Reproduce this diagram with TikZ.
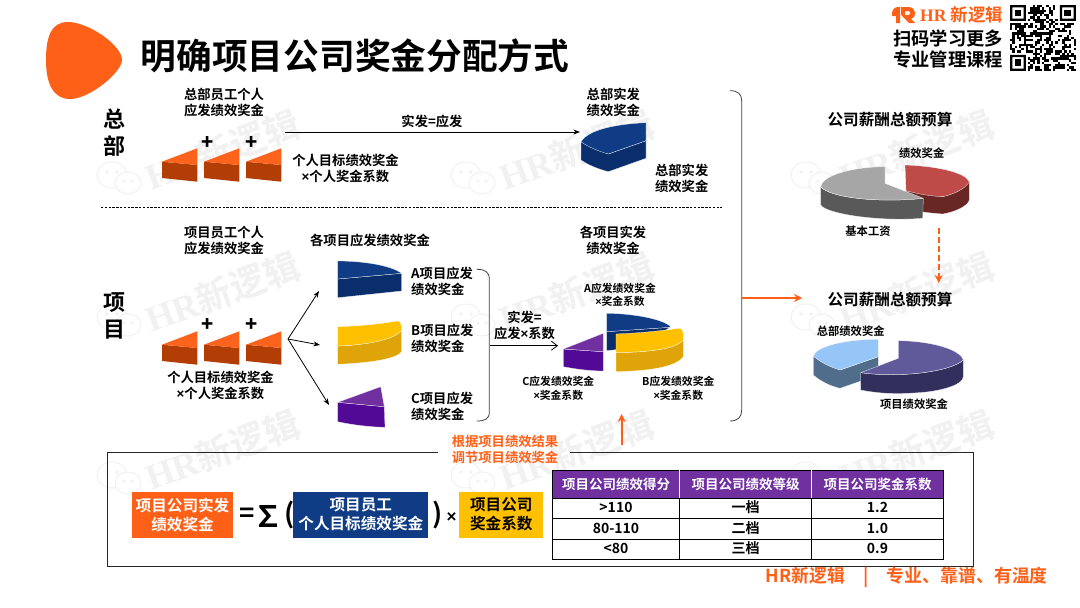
\documentclass[tikz,border=0pt]{standalone}
\usepackage{fontspec}
\setmainfont[BoldFont={Noto Sans CJK SC Bold}]{Noto Sans CJK SC}
\newfontfamily\latinserif{Liberation Serif}
\newfontfamily\latinsans{Liberation Sans}
\newfontfamily\blackface{Noto Sans CJK SC Black}
\usepackage{xcolor}
\usetikzlibrary{arrows.meta,positioning,calc}
\definecolor{brandcol}{RGB}{255,96,24}
\definecolor{navytop}{RGB}{15,60,133}
\definecolor{navyside}{RGB}{9,46,107}
\definecolor{goldtop}{RGB}{255,192,0}
\definecolor{goldside}{RGB}{222,164,8}
\definecolor{violettop}{RGB}{112,48,160}
\definecolor{violetside}{RGB}{82,10,150}
\definecolor{wedgetop}{RGB}{252,100,30}
\definecolor{wedgeside}{RGB}{178,62,6}
\definecolor{redtop}{RGB}{190,75,72}
\definecolor{redside}{RGB}{104,38,36}
\definecolor{greytop}{RGB}{166,166,166}
\definecolor{greyside}{RGB}{89,89,89}
\definecolor{skytop}{RGB}{150,197,248}
\definecolor{skyside}{RGB}{80,110,140}
\definecolor{slatetop}{RGB}{96,90,154}
\definecolor{slateside}{RGB}{50,47,92}
\definecolor{marktext}{RGB}{241,241,241}
\newcommand\fs[2]{\fontsize{#1}{#2}\selectfont\bfseries}
\newcommand\tm{{\latinsans\bfseries ×}}

\begin{document}
\begin{tikzpicture}[
  x=1pt, y=-1pt, >=Stealth,
  lbl/.style={inner sep=0pt, align=center, font=\fs{13.3}{16}},
  sidelbl/.style={inner sep=0pt, align=left, anchor=west, font=\fs{13.3}{16}},
  small/.style={inner sep=0pt, align=center, font=\fs{10.8}{13.4}},
  head/.style={inner sep=0pt, align=center, font=\fs{22}{27}},
  pielbl/.style={inner sep=0pt, font=\fs{11.3}{14}},
  pietitle/.style={inner sep=0pt, font=\fs{15.6}{18}},
  formbox/.style={minimum height=46pt, inner sep=0pt, align=center, font=\fs{15.6}{19}},
  cell/.style={inner sep=0pt, font=\fs{14}{16}},
  hcell/.style={inner sep=0pt, text=white, font=\fs{13.5}{16}},
  e/.style={->, thick, black},
  o/.style={-{Stealth[length=8pt,width=8pt]}, line width=2pt, brandcol},
  face/.style={draw=white, line width=.25pt, line join=round},
]
\useasboundingbox (0,0) rectangle (1080,608);
\fill[white] (0,0) rectangle (1080,608);
% watermarks
\foreach \wx/\wy in {118/178,472/178,812/178,118/320,472/320,812/320,118/478,472/478,812/478} {
  \begin{scope}[shift={(\wx,\wy)}, marktext, line width=1pt]
    \draw (-6,-3) ellipse (15pt and 13pt);
    \draw[fill=white] (10,5) ellipse (13pt and 11pt);
    \fill (-11,-6) circle (1.8pt) (-1,-6) circle (1.8pt) (6,3) circle (1.6pt) (14,3) circle (1.6pt);
    \node[rotate=20, anchor=west, inner sep=0pt, text=marktext, font=\fs{36}{38}] at (28,0)
      {{\latinserif HR}新逻辑};
  \end{scope}
}
% brand corner
\fill[brandcol] (46,60) .. controls (46,35) and (52,22) .. (68,22) .. controls (88,22) and (122,45) .. (122,60)
  .. controls (122,72) and (90,99) .. (70,99) .. controls (54,99) and (46,85) .. (46,60);
\node[inner sep=0pt, font=\fs{35.7}{40}] (title) at (355,56) {明确项目公司奖金分配方式};
\fill[brandcol] (892,13) .. controls (892,8) and (898,6) .. (900,7) -- (900,23) -- (896,23) -- (896,16) -- (892,16) -- cycle;
\fill[brandcol, even odd rule] (901,7) -- (908,7) .. controls (917,7) and (917,18) .. (911,19) -- (915,23) -- (909,23) -- (901,15) -- cycle
  (905,11) -- (908,11) .. controls (911,11) and (911,15) .. (908,15) -- (905,15) -- cycle;
\node[inner sep=0pt, anchor=west, text=brandcol, font=\fs{17.5}{20}] (brand) at (920,15) {{\latinserif\bfseries HR }新逻辑};
\node[inner sep=0pt, font=\fs{18.3}{22}] (scan) at (948,38) {扫码学习更多};
\node[inner sep=0pt, font=\fs{18.3}{22}] (course) at (948,60) {专业管理课程};
\begin{scope}[shift={(1010,5)}, x=2.27pt, y=-2.27pt]
  \pgfmathsetseed{29}
  \foreach \qi in {0,...,28} {
    \foreach \qj in {0,...,28} {
      \pgfmathparse{(\qi<8 && \qj<8) || (\qi>20 && \qj<8) || (\qi<8 && \qj>20) ? 0 : (rnd>0.5 ? 1 : 0)}
      \ifnum\pgfmathresult>0 \fill (\qi,\qj) rectangle ++(1.02,1.02); \fi
    }
  }
  \foreach \qx/\qy in {0/0,22/0,0/22} {
    \fill[even odd rule] (\qx,\qy) rectangle ++(7,7) (\qx+1,\qy+1) rectangle ++(5,5);
    \fill (\qx+2,\qy+2) rectangle ++(3,3);
  }
\end{scope}
% headquarters
\node[head] (hq) at (114,132.5) {总\\部};
\node[lbl] (hqstaff) at (224,102.5) {总部员工个人\\应发绩效奖金};
\foreach \wx/\wy in {162/0,204/0,246/0,162/183,204/183,246/183} {
  \fill[wedgeside, shift={(\wx,\wy)}] (0,161.7) -- (35.3,165) -- (35.3,181.7) -- (0,178) -- cycle;
  \fill[wedgetop, shift={(\wx,\wy)}] (0,161.7) -- (35.3,148.3) -- (35.3,165) -- cycle;
}
\foreach \px/\py [count=\pi] in {208/142.5,252/142.5,208/325,252/325}
  \node[inner sep=0pt, font=\blackface\fontsize{20}{20}\selectfont] (plus\pi) at (\px,\py) {+};
\node[lbl] (hqcalc) at (345.5,168.5) {个人目标绩效奖金\\\tm 个人奖金系数};
\coordinate (hqfrom) at (285,132);
\coordinate (hqto) at (580,132);
\draw[e] (hqfrom) -- (hqto);
\node[lbl] (hqeq) at (432,121) {实发=应发};
\node[lbl] (hqpaid) at (613.3,102) {总部实发\\绩效奖金};
\fill[navyside, face] (581,141.7) -- (581,160) .. controls (588,165) and (598,169) .. (608.3,171.7) -- (646,158.3) -- (646,140.7) -- (608.3,154) -- cycle;
\fill[navytop, face] (646,122.7) .. controls (615,124) and (588,130) .. (581,141.7) .. controls (588,147) and (598,151) .. (608.3,154) -- (646,140.7) -- cycle;
\node[lbl] (hqpaidb) at (681.7,178) {总部实发\\绩效奖金};
\coordinate (splitl) at (101,207);
\coordinate (splitr) at (722,207);
\draw[dashed, dash pattern=on 2.4pt off 1.4pt, line width=.8pt] (splitl) -- (splitr);
% projects
\node[head] (proj) at (114,315.5) {项\\目};
\node[lbl] (prstaff) at (224,240) {项目员工个人\\应发绩效奖金};
\node[lbl] (pralloc) at (370,240) {各项目应发绩效奖金};
\node[lbl] (prcalc) at (220.5,385) {个人目标绩效奖金\\\tm 个人奖金系数};
\coordinate (fan) at (288,339);
\coordinate (fana) at (319,291);
\coordinate (fanb) at (320,345);
\coordinate (fanc) at (329,405);
\foreach \t in {fana,fanb,fanc}
  \draw[e] (fan) -- (\t);
% A slab
\fill[navyside, face] (337.7,279) -- (337.7,297.7) -- (401.7,291) -- (401.7,273.3) -- cycle;
\fill[navytop, face] (337.7,261) .. controls (362,261) and (390,265) .. (401.7,273.3) -- (337.7,279) -- cycle;
% B slab
\fill[goldside, face] (337.7,346) -- (337.7,364.3) .. controls (365,363) and (395,360) .. (401.7,351.7) -- (401.7,330) .. controls (395,340) and (365,345) .. (337.7,346) -- cycle;
\fill[goldtop, face] (337.7,326.7) .. controls (360,326) and (380,324) .. (397,321) .. controls (400,321) and (402,324) .. (401.7,330) .. controls (395,340) and (365,345) .. (337.7,346) -- cycle;
% C slab
\fill[violetside, face] (337.7,402.3) -- (337.7,421.7) .. controls (353,425) and (370,427) .. (385,427.3) -- (384.3,406.7) -- cycle;
\fill[violettop, face] (337.7,402.3) -- (380.7,386.7) -- (384.3,406.7) -- cycle;
\node[sidelbl] (proja) at (411,281.5) {A项目应发\\绩效奖金};
\node[sidelbl] (projb) at (411,338) {B项目应发\\绩效奖金};
\node[sidelbl] (projc) at (411,406.5) {C项目应发\\绩效奖金};
\draw[line width=.8pt, black!75] (476.7,269.3) .. controls (485,269.3) and (489.3,272) .. (489.3,279) -- (489.3,412) .. controls (489.3,419) and (485,421) .. (476.7,421);
\coordinate (sumfrom) at (490,345.7);
\coordinate (sumto) at (558,345.7);
\draw[->, thick, >={Straight Barb[length=6pt,width=9pt]}] (sumfrom) -- (sumto);
\node[lbl] (sumeq) at (524.5,325) {实发=\\应发\tm 系数};
\node[lbl] (prpaid) at (613,240) {各项目实发\\绩效奖金};
\node[small] (paida) at (620,295) {A应发绩效奖金\\\tm 奖金系数};
\node[small] (paidb) at (678.3,388.5) {B应发绩效奖金\\\tm 奖金系数};
\node[small] (paidc) at (558.3,388.5) {C应发绩效奖金\\\tm 奖金系数};
% exploded pie
\fill[navyside, face] (606.7,331.7) -- (606.7,350.7) -- (640,347) -- (670,327.3) -- cycle;
\fill[navytop, face] (606.7,313.3) .. controls (630,313.5) and (660,318) .. (670,326) -- (670,327.3) -- (606.7,331.7) -- cycle;
\fill[goldside, face] (616,352.7) -- (616,371.7) .. controls (645,371) and (675,368) .. (683.3,356.7) -- (683.3,340) .. controls (675,350) and (645,352) .. (616,352.7) -- cycle;
\fill[goldtop, face] (616,334) .. controls (640,333) and (660,331) .. (678.3,328.3) .. controls (682,328) and (684,331) .. (683.3,340) .. controls (675,350) and (645,352) .. (616,352.7) -- cycle;
\fill[violetside, face] (563.3,349) -- (563.3,366.7) .. controls (575,369) and (590,371) .. (603.3,371) -- (603.3,351.7) -- cycle;
\fill[violettop, face] (563.3,349) -- (603.3,333.3) -- (603.3,351.7) -- cycle;
% budget pies
\node[pietitle] (budgetup) at (890,120) {公司薪酬总额预算};
\node[pielbl] (bonus) at (921.7,152.7) {绩效奖金};
\fill[redside, face] (906,190.7) -- (906,208) .. controls (918,212) and (930,213) .. (942.7,214) .. controls (955,212) and (968,206) .. (969.3,200) -- (969.3,181.7) -- (942.7,196.7) -- cycle;
\fill[redtop, face] (905,165) .. controls (935,166) and (965,172) .. (969.3,181.7) .. controls (966,188) and (955,194) .. (942.7,196.7) .. controls (930,196) and (918,194) .. (906,190.7) -- cycle;
\fill[greyside, face] (820.7,186.7) -- (820.7,205) .. controls (825,213) and (875,222) .. (922.7,218.3) -- (923.3,198.3) .. controls (880,203) and (830,198) .. (820.7,186.7) -- cycle;
\fill[greytop, face] (885,166.7) .. controls (850,167) and (822,176) .. (820.7,186.7) .. controls (830,198) and (880,203) .. (923.3,198.3) -- (885,183.3) -- cycle;
\node[pielbl] (basepay) at (868,231) {基本工资};
\coordinate (budgetfrom) at (938.7,228);
\coordinate (budgetto) at (938.7,283);
\draw[o, dashed, dash pattern=on 6pt off 3pt] (budgetfrom) -- (budgetto);
\node[pietitle] (budgetdn) at (890,300) {公司薪酬总额预算};
\node[pielbl] (hqbonus) at (850.7,331) {总部绩效奖金};
\fill[skyside, face] (813.3,356) -- (813.3,375) .. controls (820,381) and (830,386) .. (840,388.3) -- (878.3,375) -- (878.3,356.7) -- (840,370) -- cycle;
\fill[skytop, face] (878.3,339.3) .. controls (848,339) and (816,346) .. (813.3,356) .. controls (820,362) and (830,367) .. (840,370) -- (878.3,356.7) -- cycle;
\fill[slateside, face] (860.7,372.7) -- (860.7,390) .. controls (880,394) and (900,394) .. (913,393) .. controls (940,392) and (963,385) .. (963.3,376.7) -- (963.3,360) .. controls (950,372) and (900,378) .. (860.7,372.7) -- cycle;
\fill[slatetop, face] (898.3,340.7) .. controls (930,341) and (960,349) .. (963.3,360) .. controls (950,372) and (900,378) .. (860.7,372.7) -- (898.3,358.3) -- cycle;
\node[pielbl] (prbonus) at (914,404) {项目绩效奖金};
\draw[line width=.8pt, black!75] (730,90.7) .. controls (738,90.7) and (741.7,94) .. (741.7,101) -- (741.7,410) .. controls (741.7,417) and (738,421) .. (730,421);
\coordinate (bracefrom) at (742,298);
\coordinate (braceto) at (802,298);
\draw[o] (bracefrom) -- (braceto);
% formula frame
\draw[line width=1pt, black!85] (438,452.3) -- (107,452.3) -- (107,566) -- (973,566) -- (973,452.3) -- (570,452.3);
\node[lbl, text=brandcol] (adjust) at (505,449) {根据项目绩效结果\\调节项目绩效奖金};
\coordinate (adjfrom) at (621.7,445);
\coordinate (adjto) at (621.7,414);
\draw[o] (adjfrom) -- (adjto);
\node[formbox, fill=brandcol, text=white, minimum width=101.6pt] (fpaid) at (182.5,514.7) {项目公司实发\\绩效奖金};
\node[inner sep=0pt, font=\fs{26}{28}] (feq) at (246.7,515) {=};
\node[inner sep=0pt, font=\fs{30}{30}] (fsum) at (268.3,516) {∑};
\node[inner sep=0pt, font=\fs{27}{30}] (fopen) at (290,515) {(};
\node[formbox, fill=navytop, text=white, minimum width=135pt] (fstaff) at (360.8,514.7) {项目员工\\个人目标绩效奖金};
\node[inner sep=0pt, font=\fs{27}{30}] (fclose) at (437.3,515) {)};
\node[inner sep=0pt, font=\fs{17}{20}] (ftimes) at (451.7,518) {\tm};
\node[formbox, fill=goldtop, minimum width=84pt] (fcoef) at (501.3,514.7) {项目公司\\奖金系数};
% coefficient table
\fill[violettop] (552.4,470) rectangle (943.6,498);
\draw[line width=.8pt] (552.4,470) rectangle (943.6,559);
\foreach \ry in {498,518.5,539} \draw[line width=.8pt] (552.4,\ry) -- (943.6,\ry);
\foreach \cx in {679.5,811.4} {
  \draw[white, line width=.8pt] (\cx,470) -- (\cx,498);
  \draw[line width=.8pt] (\cx,498) -- (\cx,559);
}
\node[hcell] (th1) at (616,484) {项目公司绩效得分};
\node[hcell] (th2) at (745.5,484) {项目公司绩效等级};
\node[hcell] (th3) at (877.5,484) {项目公司奖金系数};
\foreach \ca/\cb/\cc/\ry [count=\ri] in {{>110}/一档/1.2/507.5,80-110/二档/1.0/528,{<80}/三档/0.9/548.5} {
  \node[cell] (r\ri a) at (616,\ry) {\ca};
  \node[cell] (r\ri b) at (745.5,\ry) {\cb};
  \node[cell] (r\ri c) at (877.5,\ry) {\cc};
}
\node[inner sep=0pt, anchor=east, text=brandcol, font=\fs{17.9}{20}] (foot) at (1048,577) {HR新逻辑\hspace{18pt}|\hspace{18pt}专业、靠谱、有温度};
\end{tikzpicture}
\end{document}
